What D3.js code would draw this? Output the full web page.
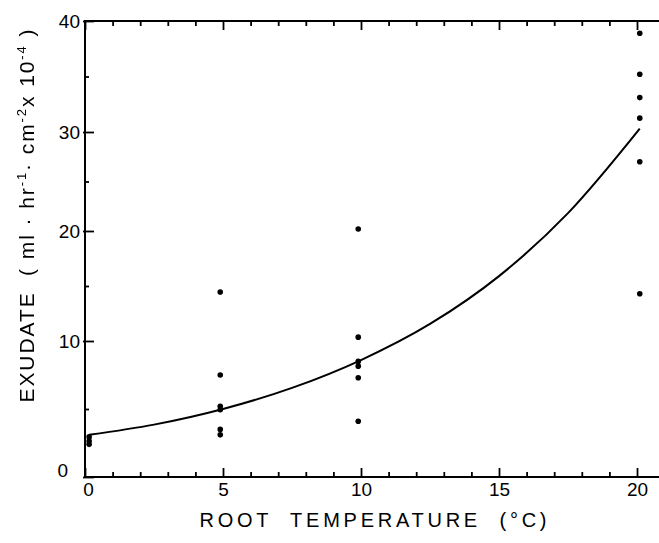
<!DOCTYPE html>
<html>
<head>
<meta charset="utf-8">
<script src="https://cdn.jsdelivr.net/npm/d3@7/dist/d3.min.js"></script>
<style>
  html, body { margin: 0; padding: 0; background: #fff; }
  svg { display: block; }
  text, tspan { font-family: "Liberation Sans", "DejaVu Sans", sans-serif; fill: #000; }
  .mono { filter: grayscale(100%); }
</style>
</head>
<body>
<svg id="chart" width="659" height="543"></svg>
<script>
// Root temperature (°C) of each group of measurements, as plotted
const tempC = [0.15, 4.9, 9.9, 20.1];
// Exudation rates (ml·hr-1·cm-2 x 10^-4) measured at each temperature
const exudateAt0 = [2.95, 2.65, 2.4];
const exudateAt5 = [14.45, 7.5, 5.2, 4.95, 3.5, 3.1];
const exudateAt10 = [20.2, 10.35, 8.5, 8.15, 7.3, 4.1];
const exudateAt20 = [38.9, 35.2, 33.1, 31.25, 27.0, 14.3];
// Fitted response curve
const curveTemp = [0.15, 2.5, 5, 7.5, 10, 12.5, 15, 17.5, 20.1];
const curveRate = [3.1, 3.85, 5.0, 6.55, 8.6, 11.55, 15.9, 21.8, 30.3];
// Axis ticks
const xMajorTicks = [0, 5, 10, 15, 20];
const yMajorTicks = [0, 10, 20, 30, 40];
const yMinorTicks = [5, 15, 25, 35];

const svg = d3.select("#chart");

const x = d3.scaleLinear().domain([0, 20]).range([85, 637]);
// Vertical axis as ruled on the original drawing (unequal spacing between decades)
const y = d3.scaleLinear().domain([0, 10, 20, 30, 40]).range([477, 341, 231, 132, 21]);

const xMinorTicks = d3.range(1, 22).filter(d => d % 5 !== 0);

// Frame lines
const frame = svg.append("g").attr("stroke", "#000").attr("fill", "none");
frame.append("line").attr("x1", 85).attr("x2", 665).attr("y1", y(0)).attr("y2", y(0)).attr("stroke-width", 2);
frame.append("line").attr("x1", 85).attr("x2", 665).attr("y1", y(40)).attr("y2", y(40)).attr("stroke-width", 2);
frame.append("line").attr("x1", 85).attr("x2", 85).attr("y1", y(40) - 1).attr("y2", y(0) + 1).attr("stroke-width", 2);

function styleAxis(g) {
  g.select(".domain").remove();
  g.selectAll(".tick line").attr("stroke", "#000").attr("stroke-width", 1.8);
  g.selectAll(".tick text").style("font-size", "19px").attr("fill", "#000");
}

// Bottom axis (ticks point inward)
const xBottom = svg.append("g")
  .attr("transform", `translate(0,${y(0)})`)
  .call(d3.axisBottom(x).tickValues(xMajorTicks).tickSize(-9).tickSizeOuter(0).tickPadding(6).tickFormat(d3.format("d")))
  .call(styleAxis);
xBottom.selectAll(".tick").filter(d => d === 0).select("text").attr("dx", 3);

svg.append("g")
  .attr("transform", `translate(0,${y(0)})`)
  .call(d3.axisBottom(x).tickValues(xMinorTicks).tickSize(-5).tickSizeOuter(0).tickFormat(""))
  .call(styleAxis);

// Top axis
svg.append("g")
  .attr("transform", `translate(0,${y(40)})`)
  .call(d3.axisTop(x).tickValues(xMajorTicks).tickSize(-9).tickSizeOuter(0).tickFormat(""))
  .call(styleAxis);
svg.append("g")
  .attr("transform", `translate(0,${y(40)})`)
  .call(d3.axisTop(x).tickValues(xMinorTicks).tickSize(-5).tickSizeOuter(0).tickFormat(""))
  .call(styleAxis);

// Left axis
const yLeft = svg.append("g")
  .attr("transform", "translate(85,0)")
  .call(d3.axisLeft(y).tickValues(yMajorTicks).tickSize(-9).tickSizeOuter(0).tickPadding(5).tickFormat(d3.format("d")))
  .call(styleAxis);
yLeft.selectAll(".tick").filter(d => d === 0).select("text").attr("transform", "translate(-12,-7)");
yLeft.selectAll(".tick line").attr("x1", -2);

svg.append("g")
  .attr("transform", "translate(85,0)")
  .call(d3.axisLeft(y).tickValues(yMinorTicks).tickSize(-4).tickSizeOuter(0).tickFormat(""))
  .call(styleAxis);

// Fitted curve
const curvePts = curveTemp.map((t, i) => [t, curveRate[i]]);
svg.append("path")
  .datum(curvePts)
  .attr("fill", "none")
  .attr("stroke", "#000")
  .attr("stroke-width", 2)
  .attr("d", d3.line().x(d => x(d[0])).y(d => y(d[1])).curve(d3.curveMonotoneX));

// Measured points
const groups = [exudateAt0, exudateAt5, exudateAt10, exudateAt20];
const points = groups.flatMap((vals, i) => vals.map(v => ({ t: tempC[i], v })));
svg.append("g").selectAll("circle")
  .data(points)
  .join("circle")
  .attr("cx", d => x(d.t))
  .attr("cy", d => y(d.v))
  .attr("r", 2.8)
  .attr("fill", "#000");

// Axis titles
svg.append("text")
  .attr("x", 373)
  .attr("y", 527)
  .attr("text-anchor", "middle")
  .attr("textLength", 347)
  .attr("lengthAdjust", "spacing")
  .attr("fill", "#000")
  .style("font-size", "20px")
  .style("white-space", "pre")
  .text("ROOT  TEMPERATURE  (°C)");

const yTitleGroup = svg.append("g")
  .attr("class", "mono")
  .attr("transform", "translate(34,216) rotate(-90)");
const yTitle = yTitleGroup.append("text")
  .attr("text-anchor", "middle")
  .attr("textLength", 373)
  .attr("lengthAdjust", "spacing")
  .attr("fill", "#000")
  .style("font-size", "21px")
  .style("white-space", "pre");
yTitle.append("tspan").text("EXUDATE  ( ml · hr");
yTitle.append("tspan").attr("dy", -8).style("font-size", "13px").text("-1");
yTitle.append("tspan").attr("dy", 8).text("· cm");
yTitle.append("tspan").attr("dy", -8).style("font-size", "13px").text("-2");
yTitle.append("tspan").attr("dy", 8).text("x 10");
yTitle.append("tspan").attr("dy", -8).style("font-size", "13px").text("-4");
yTitle.append("tspan").attr("dy", 8).text(" )");
</script>
</body>
</html>
